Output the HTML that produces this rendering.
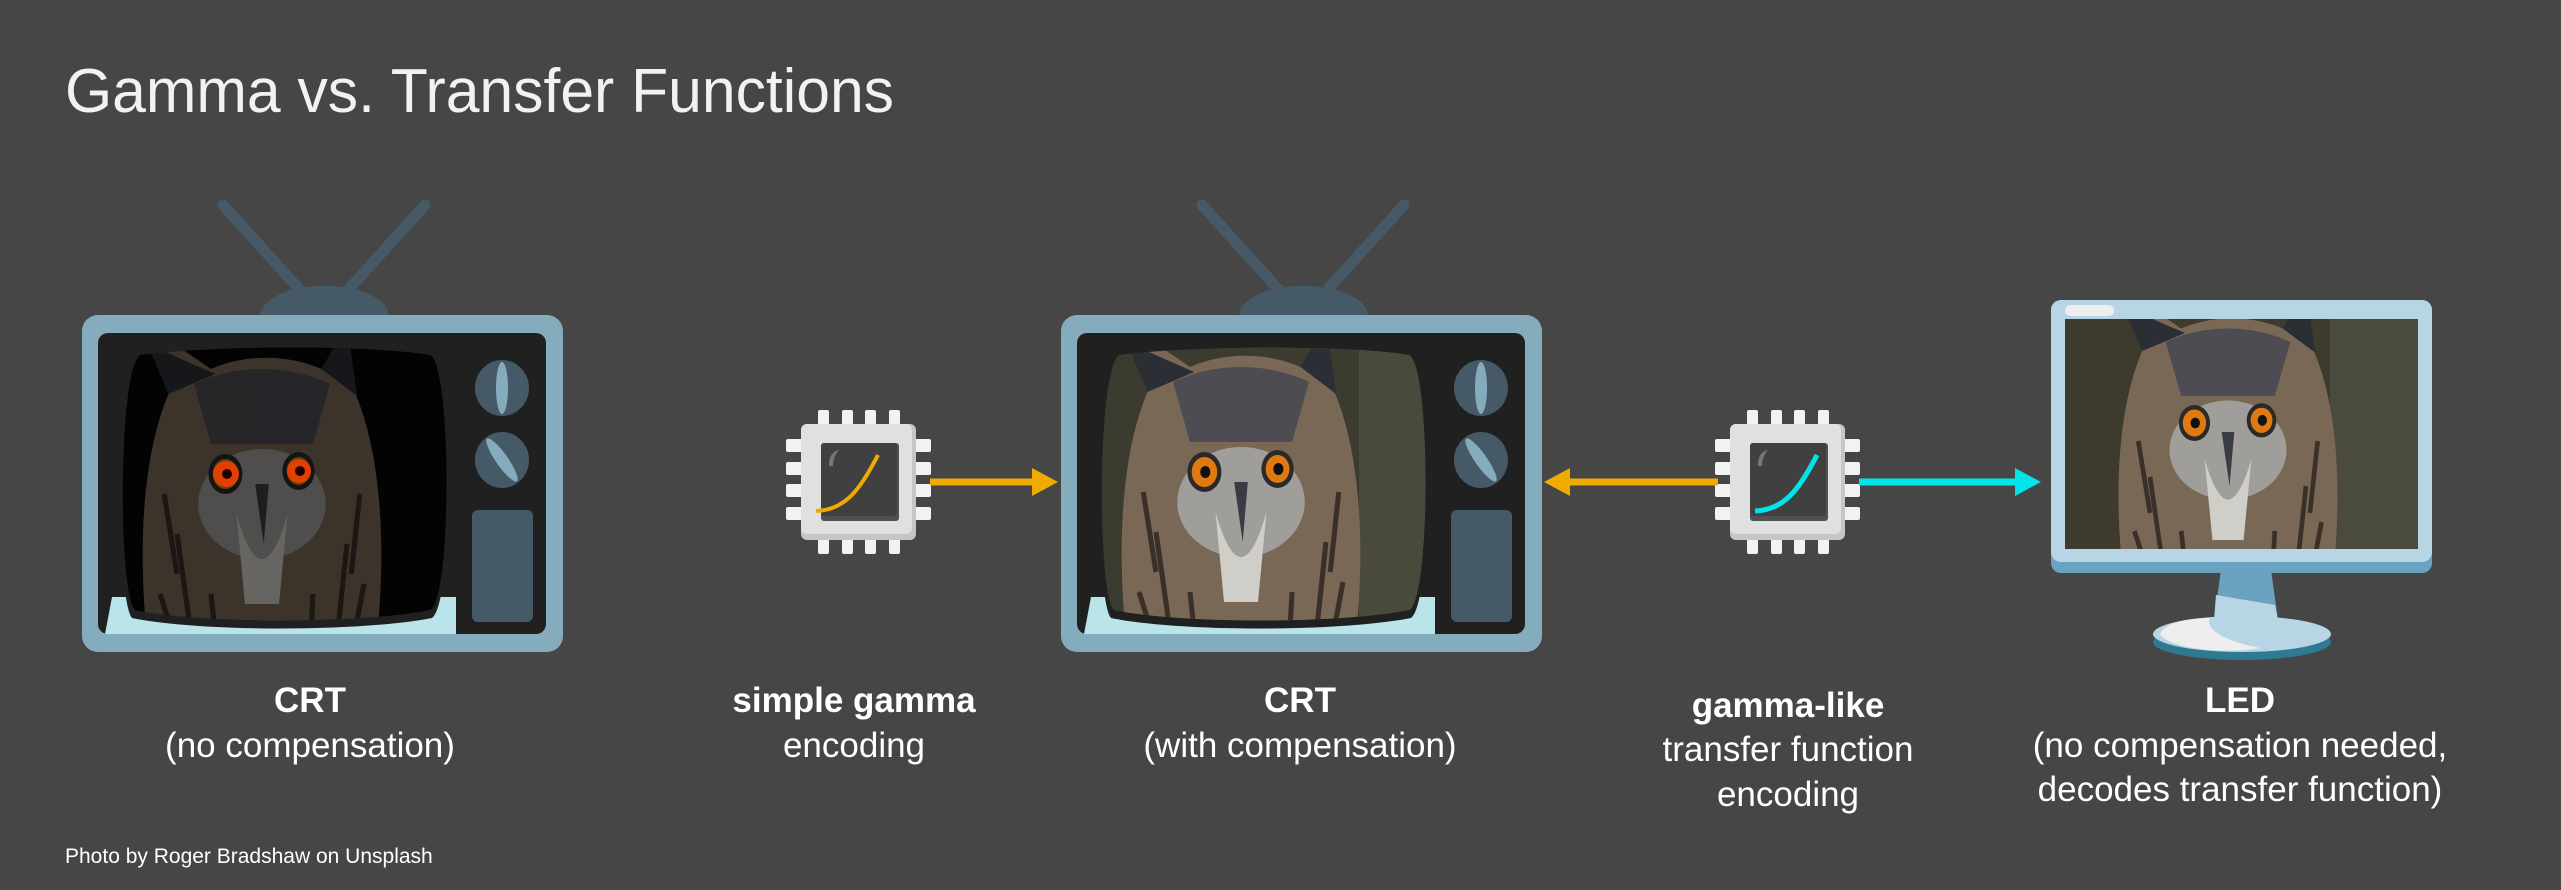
<!DOCTYPE html>
<html><head><meta charset="utf-8"><style>
html,body{margin:0;padding:0;background:#464646;}
svg{display:block;}
text{font-family:"Liberation Sans",sans-serif;fill:#fff;}
</style></head><body>
<svg width="2561" height="890" viewBox="0 0 2561 890" xmlns="http://www.w3.org/2000/svg">
<defs>
  <g id="owl">
    <path d="M-130,200 C-150,80 -140,-20 -110,-80 L-120,-140 L-60,-105 C-20,-120 30,-120 70,-105 L100,-140 L110,-80 C140,-20 150,80 130,200 Z" fill="#7a6856"/>
    <path d="M-110,-80 L-135,-130 L-55,-100 Z" fill="#2c2e36"/>
    <path d="M70,-105 L100,-150 L112,-78 Z" fill="#2c2e36"/>
    <path d="M-80,-90 C-30,-110 30,-110 80,-90 L60,-30 L-60,-30 Z" fill="#4d4c52"/>
    <ellipse cx="0" cy="30" rx="75" ry="55" fill="#a09e9a"/>
    <path d="M-30,40 C-10,100 10,100 30,40 L20,130 L-20,130 Z" fill="#d0cec8"/>
    <circle cx="-43" cy="0" r="20" fill="#2a2a2a"/>
    <circle cx="43" cy="-3" r="19" fill="#2a2a2a"/>
    <circle cx="-43" cy="0" r="15" fill="#e07a10"/>
    <circle cx="43" cy="-3" r="14" fill="#e07a10"/>
    <circle cx="-42" cy="0" r="6" fill="#111"/>
    <circle cx="44" cy="-3" r="6" fill="#111"/>
    <path d="M-8,10 L8,10 L2,70 Z" fill="#3a3c44"/>
    <path d="M-120,120 L-90,200 M-100,60 L-80,180 M100,70 L85,190 M120,110 L100,200 M-60,120 L-50,200 M60,120 L55,200 M-115,20 L-100,100 M115,20 L105,100" stroke="#3a302a" stroke-width="6"/>
  </g>
  <g id="tvframe">
    <path d="M-8,-15 L78,80 M108,80 L194,-15" stroke="#455a66" stroke-width="11" stroke-linecap="round"/>
  </g>
  <g id="chip">
    <g fill="#f2f2f2">
      <rect x="17" y="-14" width="11" height="16" rx="2"/><rect x="41" y="-14" width="11" height="16" rx="2"/><rect x="64" y="-14" width="11" height="16" rx="2"/><rect x="88" y="-14" width="11" height="16" rx="2"/>
      <rect x="17" y="114" width="11" height="16" rx="2"/><rect x="41" y="114" width="11" height="16" rx="2"/><rect x="64" y="114" width="11" height="16" rx="2"/><rect x="88" y="114" width="11" height="16" rx="2"/>
      <rect x="-15" y="15" width="17" height="13" rx="2"/><rect x="-15" y="38" width="17" height="13" rx="2"/><rect x="-15" y="60" width="17" height="13" rx="2"/><rect x="-15" y="83" width="17" height="13" rx="2"/>
      <rect x="113" y="15" width="17" height="13" rx="2"/><rect x="113" y="38" width="17" height="13" rx="2"/><rect x="113" y="60" width="17" height="13" rx="2"/><rect x="113" y="83" width="17" height="13" rx="2"/>
    </g>
    <rect x="0" y="0" width="115" height="116" rx="6" fill="#c6c6c6"/>
    <rect x="0" y="0" width="111" height="110" rx="6" fill="#e0e0e0"/>
    <rect x="20" y="19" width="78" height="78" rx="3" fill="#505050"/>
    <rect x="20" y="19" width="76" height="73" rx="3" fill="#404040"/>
    <path d="M28,42 C28,32 32,27 38,26 C34,30 32,36 32,42 Z" fill="#777"/>
  </g>
</defs>
<rect width="2561" height="890" fill="#464646"/>
<text x="65" y="112" font-size="62" textLength="829" lengthAdjust="spacingAndGlyphs" style="font-weight:300;fill:#f2f2f2">Gamma vs. Transfer Functions</text>

<!-- TV1 -->
<g>
  <use href="#tvframe" x="231" y="220"/>
  <path d="M260,316 A64,30 0 0 1 389,316 Z" fill="#455a66"/>
  <rect x="82" y="315" width="481" height="337" rx="16" fill="#84acbd"/>
  <rect x="98" y="333" width="448" height="301" rx="10" fill="#202020"/>
  <path d="M105,634 L112,597 L456,597 L456,634 Z" fill="#b8e4ea"/>
  <path d="M140,355 C220,345 370,345 430,355 C452,365 455,600 432,618 C360,632 200,632 132,618 C116,600 116,370 140,355 Z" fill="#202020"/>
  <clipPath id="s1"><path d="M140,355 C220,345 370,345 430,355 C452,365 452,600 430,610 C360,624 200,624 135,610 C118,595 118,370 140,355 Z"/></clipPath>
  <g clip-path="url(#s1)">
    <rect x="100" y="340" width="360" height="300" fill="#050505"/>
    <g opacity="0.7"><use href="#owl" transform="translate(262,474) scale(0.85,1)"/></g>
    <rect x="100" y="340" width="360" height="300" fill="#000" opacity="0.3"/>
    <circle cx="226" cy="474" r="13" fill="#e04000"/><circle cx="299" cy="471" r="12" fill="#e04000"/>
    <circle cx="227" cy="474" r="5" fill="#200"/><circle cx="300" cy="471" r="5" fill="#200"/>
  </g>
  <ellipse cx="502" cy="388" rx="27" ry="28" fill="#455a66"/>
  <ellipse cx="502" cy="388" rx="6" ry="26" fill="#84acbd"/>
  <ellipse cx="502" cy="460" rx="27" ry="28" fill="#455a66"/>
  <ellipse cx="502" cy="460" rx="6" ry="26" fill="#84acbd" transform="rotate(-35 502 460)"/>
  <rect x="472" y="510" width="61" height="112" rx="6" fill="#455a66"/>
</g>

<!-- TV2 -->
<g transform="translate(979,0)">
  <use href="#tvframe" x="231" y="220"/>
  <path d="M260,316 A64,30 0 0 1 389,316 Z" fill="#455a66"/>
  <rect x="82" y="315" width="481" height="337" rx="16" fill="#84acbd"/>
  <rect x="98" y="333" width="448" height="301" rx="10" fill="#202020"/>
  <path d="M105,634 L112,597 L456,597 L456,634 Z" fill="#b8e4ea"/>
  <path d="M140,355 C220,345 370,345 430,355 C452,365 455,600 432,618 C360,632 200,632 132,618 C116,600 116,370 140,355 Z" fill="#202020"/>
  <clipPath id="s2"><path d="M140,355 C220,345 370,345 430,355 C452,365 452,600 430,610 C360,624 200,624 135,610 C118,595 118,370 140,355 Z"/></clipPath>
  <g clip-path="url(#s2)">
    <rect x="100" y="340" width="360" height="300" fill="#3c3b30"/>
    <rect x="380" y="340" width="80" height="300" fill="#4a4a3c"/>
    <use href="#owl" transform="translate(262,472) scale(0.85,1)"/>
  </g>
  <ellipse cx="502" cy="388" rx="27" ry="28" fill="#455a66"/>
  <ellipse cx="502" cy="388" rx="6" ry="26" fill="#84acbd"/>
  <ellipse cx="502" cy="460" rx="27" ry="28" fill="#455a66"/>
  <ellipse cx="502" cy="460" rx="6" ry="26" fill="#84acbd" transform="rotate(-35 502 460)"/>
  <rect x="472" y="510" width="61" height="112" rx="6" fill="#455a66"/>
</g>

<!-- Monitor -->
<g>
  <path d="M2221,570 L2271,570 L2278,620 L2214,620 Z" fill="#6aa3bf"/>
  <path d="M2216,595 L2275,605 L2278,620 L2214,620 Z" fill="#b7d5e5"/>
  <ellipse cx="2242" cy="642" rx="89" ry="18" fill="#2f7a90"/>
  <ellipse cx="2242" cy="634" rx="89" ry="18" fill="#b7d5e5"/>
  <path d="M2160,634 C2165,622 2190,618 2210,618 C2205,628 2220,640 2260,648 C2230,654 2170,650 2160,634 Z" fill="#eeeeee"/>
  <rect x="2051" y="300" width="381" height="273" rx="10" fill="#6aa3bf"/>
  <rect x="2051" y="300" width="381" height="262" rx="10" fill="#b7d5e5"/>
  <rect x="2065" y="305" width="49" height="11" rx="5" fill="#eeeeee"/>
  <clipPath id="s3"><rect x="2065" y="319" width="353" height="230"/></clipPath>
  <g clip-path="url(#s3)">
    <rect x="2065" y="319" width="353" height="230" fill="#3d3a2e"/>
    <rect x="2330" y="319" width="88" height="230" fill="#4a4a3e"/>
    <use href="#owl" transform="translate(2228,423) scale(0.78,0.9)"/>
  </g>
</g>

<!-- chips & arrows -->
<use href="#chip" x="801" y="424"/>
<path d="M816,511 C845,510 860,490 878,455" stroke="#f0ab00" stroke-width="4" fill="none"/>
<line x1="930" y1="482" x2="1036" y2="482" stroke="#f0ab00" stroke-width="7"/>
<polygon points="1032,468 1058,482 1032,496" fill="#f0ab00"/>

<use href="#chip" x="1730" y="424"/>
<path d="M1755,511 C1784,510 1799,490 1817,455" stroke="#00e5ea" stroke-width="5" fill="none"/>
<line x1="1718" y1="482" x2="1565" y2="482" stroke="#f0ab00" stroke-width="7"/>
<polygon points="1570,468 1544,482 1570,496" fill="#f0ab00"/>
<line x1="1859" y1="482" x2="2020" y2="482" stroke="#00e5ea" stroke-width="7"/>
<polygon points="2015,468 2041,482 2015,496" fill="#00e5ea"/>

<!-- labels -->
<g font-size="35" text-anchor="middle">
  <text x="310" y="712" font-weight="bold">CRT</text>
  <text x="310" y="757">(no compensation)</text>
  <text x="854" y="712" font-weight="bold">simple gamma</text>
  <text x="854" y="757">encoding</text>
  <text x="1300" y="712" font-weight="bold">CRT</text>
  <text x="1300" y="757">(with compensation)</text>
  <text x="1788" y="717" font-weight="bold">gamma-like</text>
  <text x="1788" y="761">transfer function</text>
  <text x="1788" y="806">encoding</text>
  <text x="2240" y="712" font-weight="bold">LED</text>
  <text x="2240" y="757">(no compensation needed,</text>
  <text x="2240" y="801">decodes transfer function)</text>
</g>
<text x="65" y="863" font-size="21">Photo by Roger Bradshaw on Unsplash</text>
</svg>
</body></html>
